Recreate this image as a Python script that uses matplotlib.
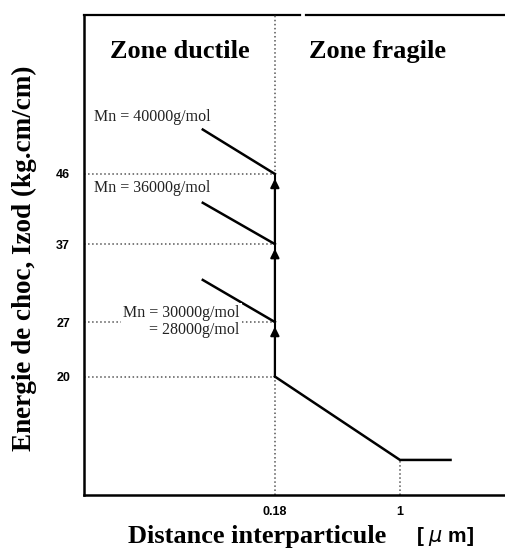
import matplotlib
matplotlib.use('Agg')
import matplotlib.pyplot as plt

# Schematic values
levels = [20, 27, 37, 46]                 # Izod energy levels on the y axis
level_labels = ['20', '27', '37', '46']
x_transition = 0.18                       # ductile / brittle transition (um)
x_ticks = [0.18, 1]
x_tick_labels = ['0.18', '1']

# ductile branches for each molar mass (start point -> end on the transition line)
mn_labels = ['Mn = 30000g/mol\n= 28000g/mol', 'Mn = 36000g/mol', 'Mn = 40000g/mol']
branch_x0 = [0.067, 0.067, 0.067]
branch_y0 = [32.4, 42.3, 51.7]
branch_y1 = [27, 37, 46]

# brittle branch
brittle_x = [0.18, 1, 2.0]
brittle_y = [20, 9.3, 9.3]

serif = ['Liberation Serif', 'DejaVu Serif']
sans = ['Liberation Sans', 'DejaVu Sans']

fig = plt.figure(figsize=(5.05, 5.52), dpi=100)
ax = fig.add_axes([84 / 505, 57 / 552, 421 / 505, 480 / 552])
ax.set_xscale('log')
ax.set_xlim(0.01315, 4.22)
ax.set_ylim(4.8, 66.4)

for s in ['top', 'right']:
    ax.spines[s].set_visible(False)
for s in ['left', 'bottom']:
    ax.spines[s].set_linewidth(1.8)
# top border with a small gap
ax.plot([0, 0.513], [1, 1], transform=ax.transAxes, color='black', lw=1.6, clip_on=False)
ax.plot([0.527, 1], [1, 1], transform=ax.transAxes, color='black', lw=1.6, clip_on=False)

# dotted guide lines
for lv in levels:
    ax.plot([ax.get_xlim()[0], x_transition], [lv, lv], color='#555555', ls=':', lw=1.1)
ax.plot([x_transition, x_transition], [ax.get_ylim()[0], ax.get_ylim()[1]],
        color='#555555', ls=':', lw=1.1)
ax.plot([1, 1], [ax.get_ylim()[0], brittle_y[1]], color='#555555', ls=':', lw=1.1)

# vertical jumps with arrows
for lo, hi in zip(levels[:-1], levels[1:]):
    ax.annotate('', xy=(x_transition, hi - 0.6), xytext=(x_transition, lo),
                arrowprops=dict(arrowstyle='-|>', color='black', lw=1.5,
                                mutation_scale=13, shrinkA=0, shrinkB=0))
ax.plot([x_transition, x_transition], [levels[0], levels[-1]], color='black', lw=1.5)

# ductile branches
for x0, y0, y1 in zip(branch_x0, branch_y0, branch_y1):
    ax.plot([x0, x_transition], [y0, y1], color='black', lw=1.8)

# brittle branch
ax.plot(brittle_x, brittle_y, color='black', lw=1.8)

# Mn labels
ax.text(0.111, 27.1, mn_labels[0], ha='right', va='center', multialignment='right',
        fontsize=11.5, family=serif, color='#222222', linespacing=1.05,
        bbox=dict(facecolor='white', edgecolor='none', pad=1.5))
ax.text(0.0150, 44.2, mn_labels[1], ha='left', va='center', fontsize=11.5,
        family=serif, color='#222222')
ax.text(0.0150, 53.3, mn_labels[2], ha='left', va='center', fontsize=11.5,
        family=serif, color='#222222')

# zone titles
ax.text(0.049, 61.7, 'Zone ductile', ha='center', va='center', fontsize=19,
        fontweight='bold', family=serif)
ax.text(0.73, 61.7, 'Zone fragile', ha='center', va='center', fontsize=19,
        fontweight='bold', family=serif)

# ticks
ax.set_yticks(levels)
ax.set_yticklabels(level_labels, fontsize=9, fontweight='bold', family=sans)
ax.set_xticks(x_ticks)
ax.set_xticklabels(x_tick_labels, fontsize=9, fontweight='bold', family=sans)
ax.minorticks_off()
ax.tick_params(axis='both', length=0)
ax.tick_params(axis='y', pad=10)
ax.tick_params(axis='x', pad=8)

# axis titles
fig.text(24 / 505, 1 - 258 / 552, 'Energie de choc, Izod (kg.cm/cm)', rotation=90,
         ha='center', va='center', fontsize=19.5, fontweight='bold', family=serif)
fig.text(257 / 505, 1 - 537 / 552, 'Distance interparticule', ha='center', va='center',
         fontsize=19, fontweight='bold', family=serif,
         bbox=dict(facecolor='white', edgecolor='none', pad=6))
fig.text(445 / 505, 1 - 536 / 552, '[ $\\mu$ m]', ha='center', va='center',
         fontsize=15, fontweight='bold', family=sans)

fig.savefig('out.png', dpi=100)
